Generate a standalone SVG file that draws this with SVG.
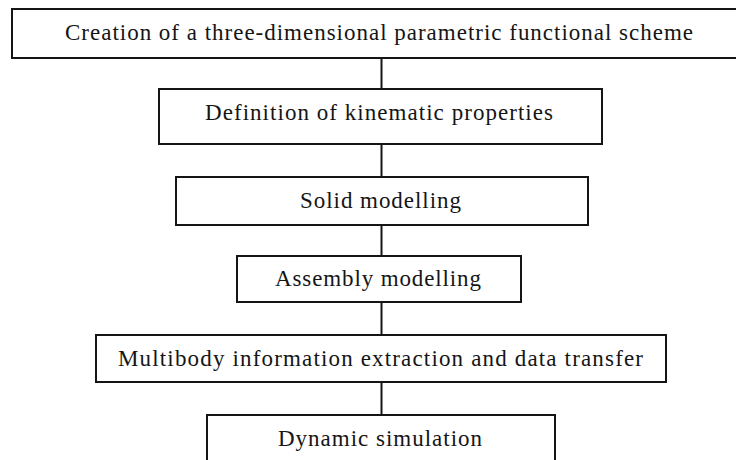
<svg xmlns="http://www.w3.org/2000/svg" width="736" height="460" viewBox="0 0 736 460">
<style>
.box{fill:#fff;stroke:#151515;stroke-width:2}
.lbl{font-family:"Liberation Serif","Times New Roman",serif;font-size:23px;fill:#151515}
.con{stroke:#151515;stroke-width:2;fill:none}
</style>
<rect width="736" height="460" fill="#fff"/>
<g id="connectors">
<line class="con" x1="381.5" y1="58" x2="381.5" y2="89"/>
<line class="con" x1="381.5" y1="144" x2="381.5" y2="177"/>
<line class="con" x1="381.5" y1="225" x2="381.5" y2="256"/>
<line class="con" x1="381.5" y1="302" x2="381.5" y2="335"/>
<line class="con" x1="381.5" y1="382" x2="381.5" y2="415"/>
</g>
<g id="n1"><rect class="box" x="12" y="9" width="740" height="49"/>
<text class="lbl" x="65" y="40" textLength="628" lengthAdjust="spacing">Creation of a three-dimensional parametric functional scheme</text></g>
<g id="n2"><rect class="box" x="159" y="89" width="443" height="55"/>
<text class="lbl" x="205" y="120" textLength="348" lengthAdjust="spacing">Definition of kinematic properties</text></g>
<g id="n3"><rect class="box" x="176" y="177" width="412" height="48"/>
<text class="lbl" x="300" y="208" textLength="161" lengthAdjust="spacing">Solid modelling</text></g>
<g id="n4"><rect class="box" x="237" y="256" width="284" height="46"/>
<text class="lbl" x="275" y="286" textLength="206" lengthAdjust="spacing">Assembly modelling</text></g>
<g id="n5"><rect class="box" x="96" y="335" width="570" height="47"/>
<text class="lbl" x="118" y="366" textLength="525" lengthAdjust="spacing">Multibody information extraction and data transfer</text></g>
<g id="n6"><rect class="box" x="207" y="415" width="348" height="60"/>
<text class="lbl" x="278" y="446" textLength="204" lengthAdjust="spacing">Dynamic simulation</text></g>
</svg>
